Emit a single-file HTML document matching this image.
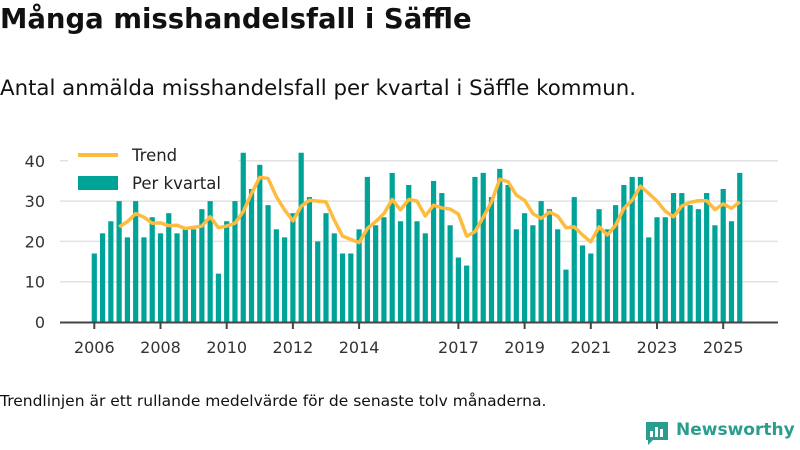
<!DOCTYPE html>
<html><head><meta charset="utf-8">
<style>
body{margin:0;width:800px;height:450px;background:#fff;font-family:"DejaVu Sans","Liberation Sans",sans-serif;overflow:hidden;position:relative;color:#111}
#title{position:absolute;left:0;top:3px;font-size:27.5px;font-weight:bold;margin:0}
#sub{position:absolute;left:0;top:76px;font-size:21.3px}
#foot{position:absolute;left:0;top:392px;font-size:15.5px}
#logo{position:absolute;left:644px;top:420px;font-size:17px;font-weight:bold;color:#2a9d8f;white-space:nowrap}
svg{position:absolute;left:0;top:0}
svg text{font-family:"DejaVu Sans","Liberation Sans",sans-serif}
</style></head><body>
<h1 id="title">Många misshandelsfall i Säffle</h1>
<div id="sub">Antal anmälda misshandelsfall per kvartal i Säffle kommun.</div>
<svg id="chart" width="800" height="450"></svg>
<div id="foot">Trendlinjen är ett rullande medelvärde för de senaste tolv månaderna.</div>
<div id="logo"><svg width="26" height="26" style="position:absolute;left:0;top:0" viewBox="0 0 26 26"><path d="M2 2h22v18H9l-5 5v-5H2z" fill="#2a9d8f"/><rect x="6" y="11" width="3" height="6" fill="#fff"/><rect x="11" y="7" width="3" height="10" fill="#fff"/><rect x="16" y="9" width="3" height="8" fill="#fff"/></svg><span style="margin-left:32px">Newsworthy</span></div>
<script>
const startYear = 2006;
const barValues = [17,22,25,30,21,30,21,26,22,27,22,23,23,28,30,12,25,30,42,33,39,29,23,21,27,42,
31,20,27,22,17,17,23,36,24,26,37,25,34,25,22,35,32,24,16,14,36,37,31,38,34,23,27,24,30,28,
23,13,31,19,17,28,23,29,34,36,36,21,26,26,32,32,29,28,32,24,33,25,37];
const trendStart = 2006.75;
const trendValues = [23.6,24.9,26.9,26,24.5,24.6,23.9,24,23.2,23.5,23.8,26.1,23.4,23.8,24.5,27.4,31.9,35.9,35.6,31.1,27.8,25.1,28.7,
30.2,30,29.8,25.3,21.3,20.5,19.7,23.2,24.9,26.9,30.4,27.8,30.4,30,26.3,29,28.3,28,26.8,21.3,22.4,26,29.8,35.4,34.8,31.5,30.2,26.9,25.7,27.3,
26.3,23.4,23.6,21.6,19.9,23.6,21.6,24,28.2,30.2,33.7,31.9,30,27.5,26.1,28.8,29.7,30.1,30.1,27.9,29.3,28.2,29.8];
const yTicks = [0,10,20,30,40];
const xTicks = [2006,2008,2010,2012,2014,2017,2019,2021,2023,2025];

const svg = document.getElementById('chart');
const NS = 'http://www.w3.org/2000/svg';
const x = t => 94.3 + (t - 2006) * 33.1;
const y = v => 322 - v * 4.03;
function mk(tag, attrs){const e=document.createElementNS(NS,tag);for(const k in attrs)e.setAttribute(k,attrs[k]);svg.appendChild(e);return e;}

yTicks.forEach(v=>{
  if(v>0){const g=mk('line',{x1:60,x2:778,y1:y(v),y2:y(v),stroke:'#e2e2e2','stroke-width':1.5});
  
  }
  const t=mk('text',{x:45,y:y(v)+6,'text-anchor':'end','font-size':16,fill:'#333'});
  t.textContent=v;
  
  
});
barValues.forEach((v,i)=>{
  const t=startYear+i/4;
  const r=mk('rect',{x:x(t)-2.6,y:y(v),width:5.2,height:322-y(v),fill:'#00a398'});
  
  
});
const ax=mk('line',{x1:60,x2:778,y1:322.5,y2:322.5,stroke:'#444','stroke-width':2});


xTicks.forEach(yr=>{
  const tk=mk('line',{x1:x(yr),x2:x(yr),y1:322,y2:329,stroke:'#444','stroke-width':2});
  
  
  const t=mk('text',{x:x(yr),y:353,'text-anchor':'middle','font-size':16,fill:'#333'});
  t.textContent=yr;
  
  
});
const pts=trendValues.map((v,i)=>x(trendStart+i/4)+','+y(v)).join(' ');
const pl=mk('polyline',{points:pts,fill:'none',stroke:'#fdbb40','stroke-width':3.5,'stroke-linejoin':'round'});


const lg=mk('rect',{x:68,y:143,width:170,height:52,fill:'#fff'});


const l1=mk('line',{x1:78,x2:118,y1:155,y2:155,stroke:'#fdbb40','stroke-width':4});


const t1=mk('text',{x:132,y:161,'font-size':16.5,fill:'#222'});t1.textContent='Trend';


const r2=mk('rect',{x:78,y:176,width:40,height:14,fill:'#00a398'});


const t2=mk('text',{x:132,y:189,'font-size':16.5,fill:'#222'});t2.textContent='Per kvartal';


</script>
</body></html>
